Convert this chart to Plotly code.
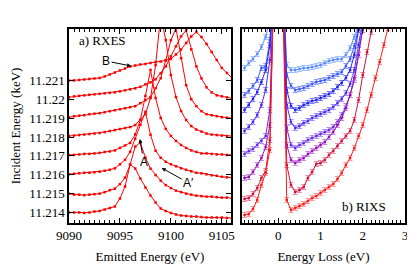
import plotly.graph_objects as go

# ---------------- data: (a) RXES ----------------
emitted_energy = [9090.0, 9090.5, 9091.0, 9091.5, 9092.0, 9092.5, 9093.0, 9093.5, 9094.0,
                  9094.5, 9095.0, 9095.5, 9096.0, 9096.5, 9097.0, 9097.5, 9098.0, 9098.5,
                  9099.0, 9099.5, 9100.0, 9100.5, 9101.0, 9101.5, 9102.0, 9102.5, 9103.0,
                  9103.5, 9104.0, 9104.5, 9105.0, 9105.5, 9106.0]
incident_labels = ["11.214", "11.215", "11.216", "11.217", "11.218", "11.219", "11.22", "11.221"]

rxes_11214 = [0, 0, 0, -0.5, 0, 1, 1.5, 3, 4.5, 6, 14, 26, 48, 44, 34, 25, 17, 10, 4, 1.5,
              -0.5, -2, -3, -3.5, -4, -4, -4.5, -5, -5, -5, -5, -5.5, -5.5]
rxes_11215 = [0, -1, -1, -1.5, -1, -0.5, 0, 1.5, 3.5, 5, 9.5, 16, 29, 47, 51, 36, 25, 18.5, 13,
              8.5, 5.5, 3, 1.5, 0, -1, -2, -2.5, -3, -3, -3.5, -4, -4, -4.5]
rxes_11216 = [0.5, 1, 1.5, 2, 2, 2.5, 3, 4, 5, 6.5, 10.5, 15, 23, 36, 50, 63, 40, 24, 17, 13,
              10.5, 8.5, 6.5, 5, 3.5, 2, 1.5, 0.5, -0.5, -1, -2, -2.5, -3]
rxes_11217 = [1, 1, 1.5, 2, 2, 2.5, 3, 4, 4.5, 5.5, 8, 10.5, 13, 21.5, 36, 60, 86, 58, 38, 27,
              20, 15, 11, 8, 5.5, 4, 2.5, 2.5, 2, 1.5, 1.5, 1, 1]
rxes_11218 = [1, 1.5, 2, 2.5, 3, 3.5, 4, 5, 6, 7, 8, 9, 10, 12, 17, 23, 39, 72, 122, 97, 62,
              40, 26, 17, 11, 7.5, 5.5, 3.5, 2.5, 2, 1.5, 1, 1]
rxes_11219 = [1, 2, 2.5, 3, 4, 4.5, 5, 6, 7, 8, 9, 10, 11, 12, 15, 18, 21, 30, 40, 58, 78, 90,
              60, 33, 19, 12, 7, 4, 3, 2, 1, 0.5, 0]
rxes_11220 = [2, 3, 3.5, 4, 4.5, 5, 5.5, 6, 6.5, 7, 8, 9, 10, 11, 12.5, 15, 17, 20, 26, 33, 43,
              53, 63, 69, 50, 33, 21, 12, 7, 4, 3, 2, 1]
rxes_11221 = [0, 0, 0.5, 1, 1.5, 2, 2.5, 4, 6, 8, 10, 12, 14, 15, 16, 16.5, 17.5, 18.5, 19, 20,
              21.5, 26, 31, 37.5, 44, 48.5, 43.5, 36.5, 28.5, 20.5, 12.5, 7.5, 2.5]
rxes_spectra = [rxes_11214, rxes_11215, rxes_11216, rxes_11217,
                rxes_11218, rxes_11219, rxes_11220, rxes_11221]

# ---------------- data: (b) RIXS ----------------
energy_loss = [-0.8, -0.7, -0.6, -0.5, -0.4, -0.3, -0.2, -0.1, 0.0, 0.1, 0.2, 0.3, 0.4, 0.5,
               0.6, 0.7, 0.8, 0.9, 1.0, 1.1, 1.2, 1.3, 1.4, 1.5, 1.6, 1.7, 1.8, 1.9, 2.0, 2.1,
               2.2, 2.3, 2.4, 2.5, 2.6, 2.7]
rixs_1 = [155, 160, 164, 169, 176, 186, 203, 250, 250, 250, 158, 153, 153, 154, 155, 155, 156,
          157, 158, 160, 162, 163, 164, 164, 168, 175, 186, 198, 213]
rixs_2 = [128, 132, 137, 143, 155, 157, 183, 250, 250, 250, 148, 137, 133, 134, 135, 137, 139,
          141, 142, 143, 145, 147, 149, 151, 157, 164, 177, 195, 213]
rixs_3 = [113, 118, 124, 131, 141, 153, 178, 250, 250, 250, 133, 117, 113, 115, 118, 120, 122,
          123, 125, 127, 129, 132, 136, 140, 145, 153, 168, 193, 218]
rixs_4 = [92, 96, 101, 108, 118, 133, 163, 250, 250, 250, 118, 101, 95, 97, 100, 102, 105, 107,
          109, 111, 113, 116, 120, 124, 130, 139, 153, 178, 203]
rixs_5 = [69, 72, 74, 78, 82, 87, 113, 250, 250, 250, 95, 78, 75, 78, 80, 83, 85, 87, 89, 91,
          93, 96, 101, 108, 117, 128, 143, 168, 198]
rixs_6 = [45, 46, 51, 58, 65, 76, 98, 250, 250, 250, 78, 63, 60, 63, 65, 69, 72, 75, 78, 81,
          86, 91, 98, 105, 115, 128, 145, 168, 193, 218]
rixs_7 = [24, 25, 29, 35, 45, 52, 83, 250, 250, 250, 58, 38, 31, 33, 36, 45, 51, 59, 60, 63,
          68, 72, 77, 82, 87, 92, 103, 123, 148, 171, 191, 213]
rixs_8 = [8, 9, 14, 23, 38, 50, 73, 250, 250, 250, 23, 13, 15, 17, 19, 22, 25, 27, 30, 33, 36,
          39, 44, 50, 58, 65, 75, 87, 98, 113, 128, 145, 161, 178, 195, 213]
rixs_spectra = [rixs_1, rixs_2, rixs_3, rixs_4, rixs_5, rixs_6, rixs_7, rixs_8]
rixs_errors = [2.5, 2.5, 2.5, 2.5, 2.5, 2.5, 2.5, 2.5]

rixs_line_colors = ["#5a8cff", "#3d5bff", "#2424f0", "#4b2cf0",
                    "#6a2ae8", "#9a10b8", "#d0103c", "#ff1a1a"]
rixs_err_colors = ["#a4c2ff", "#8a9cff", "#7a7aff", "#9a88ff",
                   "#b090f0", "#cc88dd", "#ee8aa0", "#ff9a9a"]

SPACING = 18.86
SERIF = "Liberation Serif"
SANS = "Liberation Sans"
OFF = 8               # the page body margin the figure sits inside
W, H = 415 - OFF, 270 - OFF


def px(x):
    return (x - OFF) / W


def py(y):
    return 1 - (y - OFF) / H


fig = go.Figure()

for i, spec in enumerate(rxes_spectra):
    fig.add_trace(go.Scatter(
        x=emitted_energy, y=[i * SPACING + v for v in spec],
        mode="lines+markers", xaxis="x", yaxis="y", showlegend=False,
        line=dict(color="#ff0000", width=1),
        marker=dict(symbol="square", size=2.5, color="#ff0000"),
    ))

for j, spec in enumerate(rixs_spectra):
    fig.add_trace(go.Scatter(
        x=energy_loss[:len(spec)], y=spec,
        mode="lines+markers", xaxis="x2", yaxis="y2", showlegend=False,
        line=dict(color=rixs_line_colors[j], width=1),
        marker=dict(symbol="square", size=2.5, color=rixs_line_colors[j]),
        error_y=dict(type="constant", value=rixs_errors[j], color=rixs_err_colors[j],
                     thickness=1, width=2.5),
    ))

ydom = [py(223), py(29)]
title_font = dict(family=SERIF, size=13, color="black")
axis_common = dict(showline=True, linecolor="black", linewidth=1.5, mirror="allticks",
                   ticks="inside", tickcolor="black", ticklen=5, showgrid=False,
                   zeroline=False, automargin=False,
                   tickfont=dict(family=SERIF, size=13, color="black"))

fig.update_layout(
    width=W, height=H, margin=dict(l=0, r=0, t=0, b=0),
    paper_bgcolor="white", plot_bgcolor="white",
    font=dict(family=SERIF, size=13, color="black"),
    xaxis=dict(domain=[px(69), px(231)], range=[9090, 9105.9], anchor="y",
               tickvals=[9090, 9095, 9100, 9105],
               minor=dict(dtick=0.5, tick0=9090, ticks="inside", ticklen=3, tickcolor="black"),
               title=dict(text="Emitted Energy (eV)", font=title_font, standoff=10),
               **axis_common),
    yaxis=dict(domain=ydom, range=[-10.5, 183.5], anchor="x",
               tickvals=[i * SPACING for i in range(len(incident_labels))],
               ticktext=incident_labels,
               title=dict(text="Incident Energy (keV)", font=title_font, standoff=9),
               **axis_common),
    xaxis2=dict(domain=[px(242), px(405)], range=[-0.86, 3.0], anchor="y2",
                tickvals=[0, 1, 2, 3],
                minor=dict(dtick=0.1, tick0=0, ticks="inside", ticklen=3, tickcolor="black"),
                title=dict(text="Energy Loss (eV)", font=title_font, standoff=10),
                **axis_common),
    yaxis2=dict(domain=ydom, range=[0, 194], anchor="x2", showticklabels=False,
                showline=True, linecolor="black", linewidth=1.5, mirror=True,
                ticks="", showgrid=False, zeroline=False, automargin=False),
)

fig.add_annotation(x=px(102), y=py(41), xref="paper", yref="paper", text="a) RXES",
                   xanchor="center", yanchor="middle",
                   showarrow=False, font=dict(family=SERIF, size=13, color="black"))
fig.add_annotation(x=px(364), y=py(206), xref="paper", yref="paper", text="b) RIXS",
                   xanchor="center", yanchor="middle",
                   showarrow=False, font=dict(family=SERIF, size=13, color="black"))

arrow_style = dict(showarrow=True, arrowhead=2, arrowsize=0.8, arrowwidth=1,
                   arrowcolor="black", xref="x", yref="y", axref="pixel", ayref="pixel",
                   font=dict(family=SANS, size=12, color="black"), standoff=0)
fig.add_annotation(x=9096.1, y=146.5, text="B", ax=-25, ay=-5, **arrow_style)
fig.add_annotation(x=9096.95, y=73.5, text="A", ax=4, ay=23, **arrow_style)
fig.add_annotation(x=9099.1, y=44.5, text="A′", ax=27, ay=15, **arrow_style)

fig.write_html("out.html")
